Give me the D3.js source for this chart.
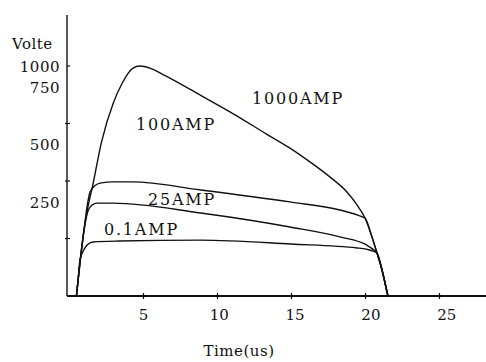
<!DOCTYPE html>
<html>
<head>
<meta charset="utf-8">
<script src="https://cdn.jsdelivr.net/npm/d3@7"></script>
<style>
  body { margin: 0; background: #fff; }
  svg { display: block; }
</style>
</head>
<body>
<div class="chart"></div>
<script>
const width = 486
const height = 362

// readings (time in us, volts)
const seriesNames = ["1000AMP", "100AMP", "25AMP", "0.1AMP"]
const t1000 = [0.5, 0.75, 1.0, 1.28, 1.6, 2.2, 3.0, 3.6, 4.3, 4.8, 5.5, 6.5, 8.9, 11.1, 13.4, 14.93, 16.28, 17.64, 18.78, 19.46, 20.0, 20.47, 20.81, 21.15, 21.49, 21.55]
const v1000 = [0, 150, 280, 387, 480, 670, 840, 926, 990, 1000, 990, 958, 872, 792, 702, 643, 583, 517, 452, 396, 339, 257, 187, 113, 17, 0]
const t100 = [0.5, 0.75, 1.0, 1.2, 1.42, 1.76, 2.1, 3.0, 4.3, 8.9, 14.93, 18.3, 19.86, 20.0, 20.47, 20.81, 21.15, 21.49, 21.55]
const v100 = [0, 150, 280, 380, 452, 480, 491, 496, 496, 461, 409, 374, 343, 339, 257, 187, 113, 17, 0]
const t25 = [0.5, 0.75, 1.0, 1.28, 1.55, 1.89, 3.0, 8.9, 14.93, 18.3, 20.1, 20.5, 20.81, 21.15, 21.49, 21.55]
const v25 = [0, 150, 280, 370, 395, 404, 404, 361, 300, 257, 222, 205, 187, 113, 17, 0]
const t01 = [0.5, 0.6, 0.74, 1.0, 1.22, 1.62, 3.4, 8.9, 15.0, 19.46, 20.3, 20.81, 21.15, 21.49, 21.55]
const v01 = [0, 60, 157, 200, 222, 235, 239, 243, 226, 209, 200, 187, 113, 17, 0]

const xTicks = [5, 10, 15, 20, 25]
const yTicks = [250, 500, 750, 1000]
const yTickLabels = ["250", "500", "750", "1000"]

const seriesData = [
  {name: seriesNames[0], t: t1000, v: v1000},
  {name: seriesNames[1], t: t100, v: v100},
  {name: seriesNames[2], t: t25, v: v25},
  {name: seriesNames[3], t: t01, v: v01}
].map(s => ({name: s.name, pts: s.t.map((t, i) => [t, s.v[i]])}))

// where each curve label sits, in pixels (layout only)
const labelSpots = {
  "1000AMP": [252, 104],
  "100AMP": [136, 130],
  "25AMP": [148, 205],
  "0.1AMP": [104, 235]
}

const x = d3.scaleLinear().domain([0, 25]).range([69, 439])
const y = d3.scaleLinear().domain([0, 1000]).range([296, 66])

const svg = d3.create("svg")
  .attr("width", width)
  .attr("height", height)
  .attr("viewBox", [0, 0, width, height])
  .style("font-family", "'DejaVu Serif', serif")

// y axis line + ticks
svg.append("line")
  .attr("x1", 67).attr("x2", 67)
  .attr("y1", 15).attr("y2", 296)
  .attr("stroke", "#111").attr("stroke-width", 1.4)

svg.append("g")
  .selectAll("line")
  .data(yTicks)
  .join("line")
  .attr("x1", d => d === 1000 ? 67 : 65).attr("x2", 70)
  .attr("y1", d => y(d)).attr("y2", d => y(d))
  .attr("stroke", "#111").attr("stroke-width", 1.2)

// the scan puts the tick numbers a bit off their marks
svg.append("g")
  .selectAll("text")
  .data(yTicks)
  .join("text")
  .attr("x", 60)
  .attr("y", d => d === 1000 ? y(d) + 6 : y(d) - 31)
  .attr("text-anchor", "end")
  .style("font-size", "15px")
  .style("letter-spacing", "0.5px")
  .attr("fill", "#111")
  .text((d, i) => yTickLabels[i])

svg.append("text")
  .attr("x", 12).attr("y", 49)
  .style("font-size", "15px")
  .style("letter-spacing", "0.5px")
  .attr("fill", "#111")
  .text("Volte")

// x axis
const xAxis = d3.axisBottom(x).tickValues(xTicks).tickSize(3).tickSizeOuter(0)
const gx = svg.append("g")
  .attr("transform", `translate(0, 296)`)
  .call(xAxis)
gx.select(".domain").remove()
gx.append("line")
  .attr("x1", 67).attr("x2", width)
  .attr("stroke", "#111").attr("stroke-width", 1.8)
gx.selectAll(".tick line").attr("y1", -3).attr("stroke", "#111").attr("stroke-width", 1.2)
gx.selectAll(".tick text")
  .attr("y", 13)
  .attr("dx", (d, i) => i * 1.8)
  .style("font-family", "'DejaVu Serif', serif")
  .style("font-size", "15px")
  .attr("fill", "#111")

svg.append("text")
  .attr("x", 239).attr("y", 356)
  .attr("text-anchor", "middle")
  .style("font-size", "15px")
  .style("letter-spacing", "0.5px")
  .attr("fill", "#111")
  .text("Time(us)")

// curves
const line = d3.line()
  .x(d => x(d[0]))
  .y(d => y(d[1]))
  .curve(d3.curveMonotoneX)

svg.append("g")
  .selectAll("path")
  .data(seriesData)
  .join("path")
  .attr("fill", "none")
  .attr("stroke", "#111")
  .attr("stroke-width", 1.4)
  .attr("d", d => line(d.pts))

svg.append("g")
  .selectAll("text")
  .data(seriesNames)
  .join("text")
  .attr("x", d => labelSpots[d][0])
  .attr("y", d => labelSpots[d][1])
  .style("font-size", "16px")
  .style("letter-spacing", "1.8px")
  .attr("fill", "#111")
  .text(d => d)

document.querySelector(".chart").append(svg.node())
</script>
</body>
</html>
